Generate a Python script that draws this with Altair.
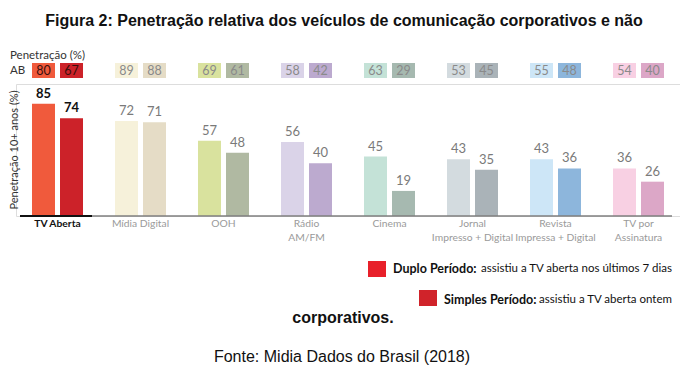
import altair as alt
import pandas as pd

categories = ["TV Aberta", "Mídia Digital", "OOH", "Rádio|AM/FM", "Cinema",
              "Jornal|Impresso + Digital", "Revista|Impressa + Digital", "TV por|Assinatura"]
series = ["Duplo", "Simples"]
duplo_vals = [85, 72, 57, 56, 45, 43, 43, 36]
simples_vals = [74, 71, 48, 40, 19, 35, 36, 26]
ab_duplo = [80, 89, 69, 58, 63, 53, 55, 54]
ab_simples = [67, 88, 61, 42, 29, 45, 48, 40]

duplo_colors = ["#F05A3C", "#F6F1DA", "#D9E29E", "#DAD3E8", "#C4E2D7", "#D3DBDF", "#CDE6F7", "#F8D0E3"]
simples_colors = ["#CC2229", "#E5DCC6", "#B0B9A2", "#BCAACF", "#A6B9B0", "#AAB3B8", "#8DB6DC", "#DCA7C7"]

rows = []
keys, colors = [], []
for i, c in enumerate(categories):
    rows.append({"cat": c, "serie": "Duplo", "key": c + "-D", "value": duplo_vals[i], "ab": ab_duplo[i]})
    rows.append({"cat": c, "serie": "Simples", "key": c + "-S", "value": simples_vals[i], "ab": ab_simples[i]})
    keys += [c + "-D", c + "-S"]
    colors += [duplo_colors[i], simples_colors[i]]
df = pd.DataFrame(rows)

FONT = "Lato"

x_enc = alt.X("cat:N", sort=categories,
              scale=alt.Scale(paddingInner=0, paddingOuter=0),
              axis=alt.Axis(title=None, domain=False, ticks=False, labelAngle=0,
                            labelExpr="split(datum.label, '|')",
                            labelColor=alt.condition("datum.value == 'TV Aberta'", alt.value("#111111"), alt.value("#9a9a9a")),
                            labelFontWeight=alt.condition("datum.value == 'TV Aberta'", alt.value("bold"), alt.value("normal")),
                            labelFont=FONT, labelFontSize=10.3, labelPadding=2, labelLineHeight=14))
xo_enc = alt.XOffset("serie:N", sort=series,
                     scale=alt.Scale(paddingInner=0.179, paddingOuter=0.571))
y_enc = alt.Y("value:Q", scale=alt.Scale(domain=[0, 100]), axis=None)
color_enc = alt.Color("key:N", scale=alt.Scale(domain=keys, range=colors), legend=None)

base = alt.Chart(df)
bars = base.mark_bar().encode(x=x_enc, xOffset=xo_enc, y=y_enc, color=color_enc)

lbl_tv = base.transform_filter("datum.cat == 'TV Aberta'").mark_text(
    baseline="bottom", dy=-3, font=FONT, fontSize=13, fontWeight="bold", color="#111111"
).encode(x=x_enc, xOffset=xo_enc, y=y_enc, text="value:Q")
lbl_other = base.transform_filter("datum.cat != 'TV Aberta'").mark_text(
    baseline="bottom", dy=-3, font=FONT, fontSize=13, color="#7a7a7a"
).encode(x=x_enc, xOffset=xo_enc, y=y_enc, text="value:Q")

ab_boxes = base.mark_rect().encode(x=x_enc, xOffset=xo_enc, y=alt.value(-21), y2=alt.value(-6), color=color_enc)
ab_tv = base.transform_filter("datum.cat == 'TV Aberta'").mark_text(
    baseline="middle", font=FONT, fontSize=12.5, color="#3a0e0c"
).encode(x=x_enc, xOffset=xo_enc, y=alt.value(-13.5), text="ab:Q")
ab_other = base.transform_filter("datum.cat != 'TV Aberta'").mark_text(
    baseline="middle", font=FONT, fontSize=12.5, color="#8a8a8a"
).encode(x=x_enc, xOffset=xo_enc, y=alt.value(-13.5), text="ab:Q")

one = pd.DataFrame({"a": [1]})


def label(text, x, y, **kw):
    return alt.Chart(one).mark_text(text=text, **kw).encode(x=alt.value(x), y=alt.value(y))


def box(x, x2, y, y2, col):
    return alt.Chart(one).mark_rect(color=col).encode(
        x=alt.value(x), x2=alt.value(x2), y=alt.value(y), y2=alt.value(y2))


axis_gray = alt.Chart(one).mark_rule(color="#7f7f7f", strokeWidth=1.5).encode(
    x=alt.value(4), x2=alt.value(656), y=alt.value(132))
axis_black = alt.Chart(one).mark_rule(color="#111111", strokeWidth=2).encode(
    x=alt.value(4), x2=alt.value(76), y=alt.value(132))

texts = [
    label("Figura 2: Penetração relativa dos veículos de comunicação corporativos e não", 328, -63,
          font="Liberation Sans", fontSize=16, fontWeight="bold", align="center", baseline="middle", color="#111111"),
    label("Penetração (%)", -6, -28, font=FONT, fontSize=11.5, align="left", baseline="middle", color="#333333"),
    label("AB", -6, -13.5, font=FONT, fontSize=11.5, align="left", baseline="middle", color="#333333"),
    label("Penetração 10+ anos (%)", -1, 66, font=FONT, fontSize=11, angle=270, align="center",
          baseline="middle", color="#333333"),
    box(352, 370, 177, 193, "#E8202A"),
    label("Duplo Período:", 377, 185, font=FONT, fontSize=12.5, fontWeight="bold", align="left",
          baseline="middle", color="#111111"),
    label("assistiu a TV aberta nos últimos 7 dias", 656, 185, font=FONT, fontSize=11.5, align="right",
          baseline="middle", color="#111111"),
    box(403, 421, 206, 222, "#D0232A"),
    label("Simples Período:", 428, 216, font=FONT, fontSize=12.5, fontWeight="bold", align="left",
          baseline="middle", color="#111111"),
    label("assistiu a TV aberta ontem", 656, 216, font=FONT, fontSize=11.5, align="right",
          baseline="middle", color="#111111"),
    label("corporativos.", 327, 234, font="Liberation Sans", fontSize=16, fontWeight="bold",
          align="center", baseline="middle", color="#111111"),
    label("Fonte: Midia Dados do Brasil (2018)", 326, 273, font="Liberation Sans", fontSize=16,
          align="center", baseline="middle", color="#111111"),
]

chart = alt.layer(
    bars, axis_gray, axis_black, lbl_tv, lbl_other, ab_boxes, ab_tv, ab_other, *texts
).properties(
    width=664, height=132,
    padding={"left": 8, "top": 76, "right": 0, "bottom": 149},
    autosize=alt.AutoSizeParams(type="none"),
).configure_view(stroke=None).configure(background="white")

chart.save("out.html", embed_options={"renderer": "svg", "actions": False})
